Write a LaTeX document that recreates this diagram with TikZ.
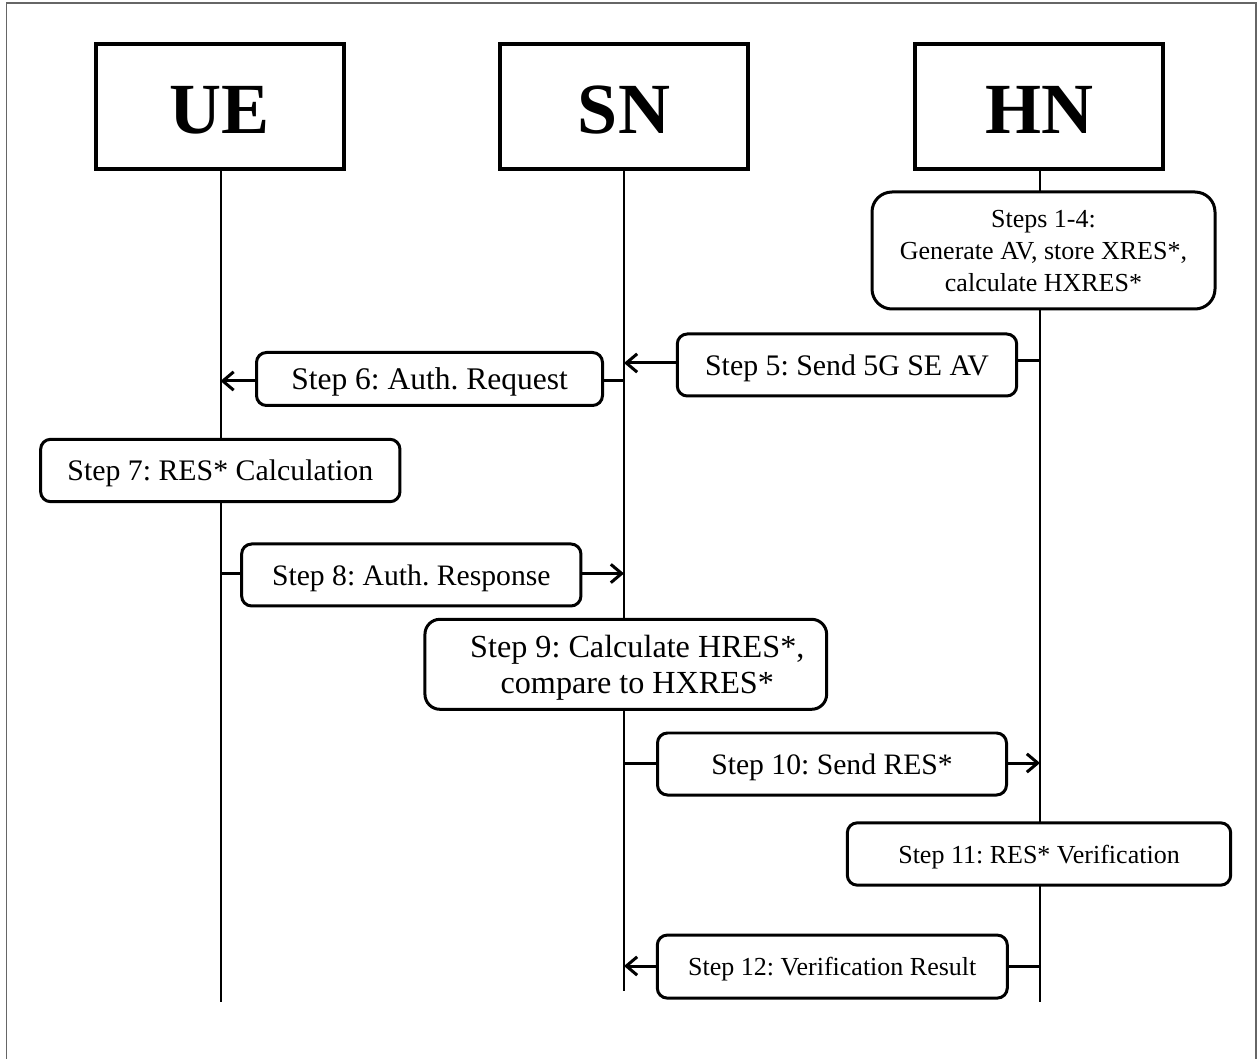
\documentclass[tikz,border=0pt]{standalone}
\usepackage{fontspec}
\setmainfont{Liberation Serif}
\usetikzlibrary{arrows.meta}
\frenchspacing
\begin{document}
\begin{tikzpicture}[x=0.6pt,y=-0.6pt,
  actor/.style={draw, line width=2pt, minimum width=148.8pt, minimum height=75pt,
    inner sep=0pt, text height=32.8pt, text depth=0pt,
    font=\fontsize{43.2}{50}\selectfont\bfseries},
  stepbox/.style 2 args={draw, fill=white, line width=1.8pt, rounded corners=6pt,
    minimum width=#1*0.6pt, minimum height=#2*0.6pt, inner sep=0pt, align=center,
    text depth=0pt},
  fs/.style={font=\fontsize{#1}{21.6}\selectfont},
  small/.style={font=\fontsize{15.6}{19.2}\selectfont},
  life/.style={line width=1.2pt},
  msg/.style={line width=1.8pt},
  tip/.style={-{Straight Barb[length=6.5pt,width=11pt]}}
]
% page area and frame
\useasboundingbox (0,0) rectangle (1259,1059);
\draw[black!60, line width=0.9pt] (6.5,1059) -- (6.5,3) -- (1256,3) -- (1256,1059);

% participants
\node[actor] (ue) at (220,106.5) {UE};
\node[actor] (sn) at (624,106.5) {SN};
\node[actor] (hn) at (1039,106.5) {HN};

% lifeline ends
\coordinate (ueEnd) at (220.5,1002);
\coordinate (snEnd) at (624,991);
\coordinate (hnEnd) at (1040,1002);
\draw[life] (ue.south -| ueEnd) -- (ueEnd);
\draw[life] (sn.south -| snEnd) -- (snEnd);
\draw[life] (hn.south -| hnEnd) -- (hnEnd);

% processing and message boxes
\node[stepbox={343}{117}, rounded corners=12pt, small] (s14) at (1043.5,250.5)
  {Steps 1-4:\\Generate AV, store XRES*,\\calculate HXRES*};
\node[stepbox={339.4}{62}, fs=17.9] (s5) at (847,365) {Step 5: Send 5G SE AV};
\node[stepbox={346}{53}, fs=18.9] (s6) at (429.5,379) {Step 6: Auth. Request};
\node[stepbox={359.3}{62.4}, fs=17.9] (s7) at (220.3,470.5) {Step 7: RES* Calculation};
\node[stepbox={339.3}{62}, fs=17.8] (s8) at (411.3,575) {Step 8: Auth. Response};
% the two lines of step 9 sit a little right of the box centre
\node[stepbox={401.7}{90}, rounded corners=9pt, fs=19.3] (s9) at (625.8,664.3)
  {\hspace*{13.8pt}Step 9: Calculate HRES*,\\\hspace*{13.8pt}compare to HXRES*};
\node[stepbox={349}{62}, fs=17.8] (s10) at (832,764) {Step 10: Send RES*};
\node[stepbox={383.4}{62.3}, small] (s11) at (1039,854) {Step 11: RES* Verification};
\node[stepbox={350}{63}, small] (s12) at (832.3,966.6) {Step 12: Verification Result};

% message anchors on the lifelines
\coordinate (hn5) at (1040,361);
\coordinate (sn5) at (624,363);
\coordinate (sn6) at (624,381);
\coordinate (ue6) at (220.5,381);
\coordinate (ue8) at (220.5,573.5);
\coordinate (sn8) at (624,573.5);
\coordinate (sn10) at (624,763);
\coordinate (hn10) at (1040,763);
\coordinate (hn12) at (1040,966);
\coordinate (sn12) at (624,966);

% messages
\draw[msg] (hn5) -- (hn5 -| s5.east);
\draw[msg, tip] (sn5 -| s5.west) -- (sn5);
\draw[msg] (sn6) -- (sn6 -| s6.east);
\draw[msg, tip] (ue6 -| s6.west) -- (ue6);
\draw[msg] (ue8) -- (ue8 -| s8.west);
\draw[msg, tip] (sn8 -| s8.east) -- (sn8);
\draw[msg] (sn10) -- (sn10 -| s10.west);
\draw[msg, tip] (hn10 -| s10.east) -- (hn10);
\draw[msg] (hn12) -- (hn12 -| s12.east);
\draw[msg, tip] (sn12 -| s12.west) -- (sn12);
\end{tikzpicture}
\end{document}
